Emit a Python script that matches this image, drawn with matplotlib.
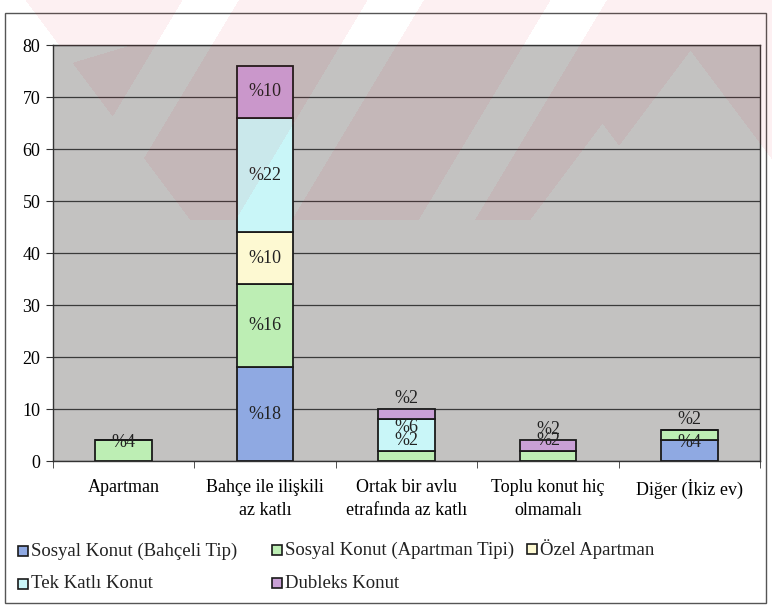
import numpy as np
import matplotlib
matplotlib.use("Agg")
import matplotlib.pyplot as plt
from matplotlib.patches import Rectangle

plt.rcParams['font.family'] = ['Liberation Serif', 'DejaVu Serif']

# veriler
categories = ['Apartman', 'Bahçe ile ilişkili\naz katlı', 'Ortak bir avlu\netrafında az katlı',
              'Toplu konut hiç\nolmamalı', 'Diğer (İkiz ev)']
series_names = ['Sosyal Konut (Bahçeli Tip)', 'Sosyal Konut (Apartman Tipi)', 'Özel Apartman',
                'Tek Katlı Konut', 'Dubleks Konut']
bahceli = [0, 18, 0, 0, 4]
apartman_tipi = [4, 16, 2, 2, 2]
ozel_apartman = [0, 10, 0, 0, 0]
tek_katli = [0, 22, 6, 0, 0]
dubleks = [0, 10, 2, 2, 0]
series = [bahceli, apartman_tipi, ozel_apartman, tek_katli, dubleks]
colors = ['#8fa9e2', '#bdeeb4', '#fdf9d2', '#c9f6f8', '#c9a0d6']
y_ticks = [0, 10, 20, 30, 40, 50, 60, 70, 80]

W, H = 772, 609
fig = plt.figure(figsize=(W / 100, H / 100), dpi=100)
fig.patch.set_facecolor('white')
ax = fig.add_axes([53 / W, 1 - 461 / H, 707 / W, 416 / H])
ax.set_facecolor('#c3c2c1')

x = np.arange(len(categories))
bottom = np.zeros(len(categories))
for name, vals, col in zip(series_names, series, colors):
    vals = np.array(vals, dtype=float)
    ax.bar(x, vals, 0.4, bottom=bottom, color=col, edgecolor='#1a1a1a', linewidth=1.3,
           label=name, zorder=3)
    for i, v in enumerate(vals):
        if v <= 0:
            continue
        # küçük dilimlerde etiket biraz yukarıda duruyor
        shift = 3 if v <= 2 else (1.5 if v <= 6 else 0)
        ax.text(x[i], bottom[i] + v / 2 + shift, '%' + str(int(v)), ha='center', va='center',
                fontsize=13, color='#222222', zorder=4)
    bottom += vals

ax.set_ylim(0, 80)
ax.set_xlim(-0.5, len(categories) - 0.5)
ax.set_yticks(y_ticks)
ax.yaxis.grid(True, color='#3a3a3a', linewidth=0.9, zorder=1)
ax.set_axisbelow(True)
ax.set_xticks(x)
ax.set_xticklabels(categories, fontsize=13, linespacing=1.45)
ax.set_xticks(np.arange(len(categories) + 1) - 0.5, minor=True)
ax.tick_params(axis='x', which='major', length=0, pad=13)
ax.tick_params(axis='x', which='minor', length=5, color='#333333')
ax.tick_params(axis='y', length=5, labelsize=13, color='#333333', pad=4)
for s in ax.spines.values():
    s.set_color('#333333')
    s.set_linewidth(1.0)

# lejant
rows = [(0, 18, 551), (1, 272, 550), (2, 527, 549), (3, 18, 584), (4, 272, 583)]
for k, lx, ly in rows:
    fig.patches.append(Rectangle((lx / W, 1 - (ly + 5) / H), 10 / W, 10 / H, transform=fig.transFigure,
                                 facecolor=colors[k], edgecolor='#1a1a1a', linewidth=1.2))
    fig.text((lx + 13) / W, 1 - ly / H, series_names[k], fontsize=13.5, va='center', ha='left',
             color='#222222')

# dış çerçeve
fig.patches.append(Rectangle((5 / W, 1 - 603 / H), 761 / W, 590 / H, transform=fig.transFigure,
                             facecolor='none', edgecolor='#555555', linewidth=1.0))

# filigran: açık pembe şerit, arada boşluklar
hh = 220
yy, xx = np.mgrid[0:hh, 0:W]
mask = np.ones((hh, W), dtype=bool)
mask &= xx > 25 + 0.75 * yy
s = 0.6
for c in [210, 395, 578]:
    mask &= np.abs(xx - (c - s * yy)) > 28
for ax0, ay0, sl in [(602, 123, 0.75), (690, 50, 0.75)]:
    mask &= ~((yy > ay0) & (np.abs(xx - ax0) < sl * (yy - ay0)))
mask &= ~((xx > 53) & (xx < 130) & (yy > 45) & (yy < 45 + 0.3 * (130 - xx)))
img = np.zeros((hh, W, 4))
img[..., 0] = 225 / 255
img[..., 1] = 30 / 255
img[..., 2] = 50 / 255
img[..., 3] = np.where(mask, 0.065, 0.0)
fig.figimage(img, xo=0, yo=H - hh, origin='upper', zorder=10)

fig.savefig('out.png', dpi=100)
